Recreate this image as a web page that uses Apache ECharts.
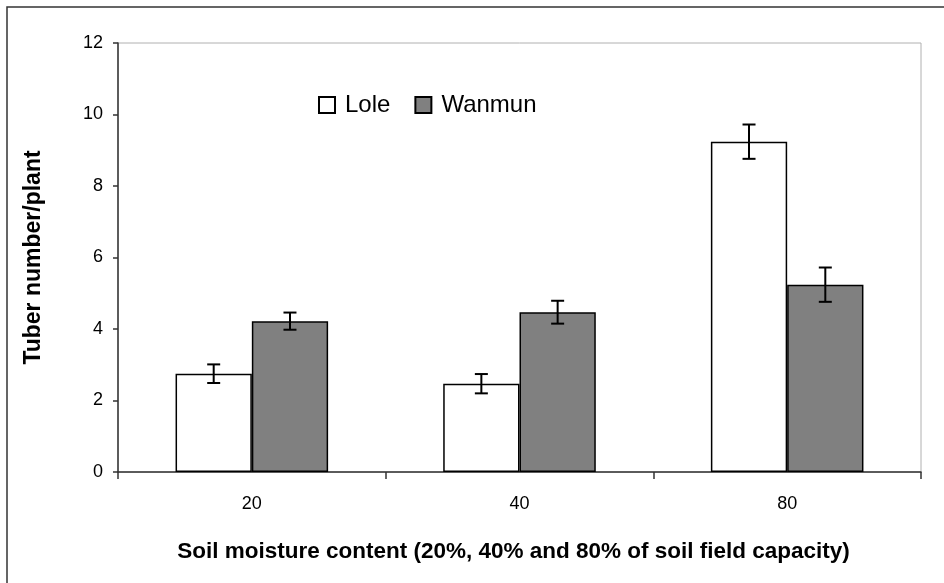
<!DOCTYPE html>
<html>
<head>
<meta charset="utf-8">
<script src="https://cdn.jsdelivr.net/npm/echarts@6/dist/echarts.min.js"></script>
<style>
  html, body { margin: 0; padding: 0; background: #fff; }
  #chart { width: 944px; height: 583px; }
</style>
</head>
<body>
<div id="chart"></div>
<script>
// Soil moisture levels (% of field capacity)
const categories = ['20', '40', '80'];
// Mean tuber number per plant
const loleValues = [2.75, 2.47, 9.24];
const wanmunValues = [4.22, 4.47, 5.24];
// Standard error of each mean
const loleErrors = [0.26, 0.27, 0.48];
const wanmunErrors = [0.24, 0.32, 0.48];
const yTicks = [0, 2, 4, 6, 8, 10, 12];

const CATEGORY_GAP = 0.43;

function errorData(values, errors) {
  return values.map((v, i) => [i, v - errors[i], v + errors[i]]);
}

// Whiskers drawn on top of each bar; side = -1 for the left bar, +1 for the right bar
function errorSeries(name, values, errors, side) {
  return {
    type: 'custom',
    name: name + ' error',
    data: errorData(values, errors),
    z: 10,
    silent: true,
    encode: { x: 0, y: [1, 2] },
    renderItem: function (params, api) {
      const idx = api.value(0);
      const lo = api.coord([idx, api.value(1)]);
      const hi = api.coord([idx, api.value(2)]);
      const band = api.size([1, 0])[0];
      const barW = band * (1 - CATEGORY_GAP) / 2;
      const x = lo[0] + side * barW / 2;
      const cap = 6.5;
      const style = { stroke: '#000', lineWidth: 2 };
      return {
        type: 'group',
        children: [
          { type: 'line', shape: { x1: x, y1: hi[1], x2: x, y2: lo[1] }, style: style },
          { type: 'line', shape: { x1: x - cap, y1: hi[1], x2: x + cap, y2: hi[1] }, style: style },
          { type: 'line', shape: { x1: x - cap, y1: lo[1], x2: x + cap, y2: lo[1] }, style: style }
        ]
      };
    }
  };
}

const chart = echarts.init(document.getElementById('chart'), null, { renderer: 'canvas' });

chart.setOption({
  animation: false,
  backgroundColor: '#fff',
  textStyle: { fontFamily: 'Liberation Sans, Arial, sans-serif' },
  graphic: [
    {
      type: 'rect',
      shape: { x: 7, y: 7, width: 1200, height: 1200 },
      style: { fill: 'none', stroke: '#333', lineWidth: 1.5 },
      z: -10
    }
  ],
  grid: {
    left: 118, right: 23, top: 43, bottom: 111,
    show: true, borderColor: '#b0b0b0', borderWidth: 1, backgroundColor: 'transparent'
  },
  legend: {
    left: 313, top: 88,
    icon: 'rect', itemWidth: 16, itemHeight: 16, itemGap: 24,
    data: ['Lole', 'Wanmun'],
    textStyle: { fontSize: 24, color: '#000', padding: [0, 0, 0, 5] }
  },
  xAxis: {
    type: 'category',
    data: categories,
    name: 'Soil moisture content (20%, 40% and 80% of soil field capacity)',
    nameLocation: 'middle',
    nameGap: 68,
    nameTextStyle: { fontSize: 22.5, fontWeight: 'bold', color: '#000', padding: [0, 12, 0, 0] },
    axisLine: { lineStyle: { color: '#333', width: 1.5 } },
    axisTick: { show: true, length: 7, lineStyle: { color: '#333', width: 1.5 } },
    axisLabel: { fontSize: 18, color: '#000', margin: 23 },
    splitLine: { show: false }
  },
  yAxis: {
    type: 'value',
    min: 0, max: 12, interval: 2,
    name: 'Tuber number/plant',
    nameLocation: 'middle',
    nameGap: 73,
    nameRotate: 90,
    nameTextStyle: { fontSize: 23, fontWeight: 'bold', color: '#000' },
    axisLine: { show: true, lineStyle: { color: '#333', width: 1.5 } },
    axisTick: { show: true, length: 5, lineStyle: { color: '#333', width: 1.5 } },
    axisLabel: {
      fontSize: 18, color: '#000', margin: 15,
      formatter: function (v) { return yTicks.indexOf(v) >= 0 ? String(v) : ''; }
    },
    splitLine: { show: false }
  },
  series: [
    {
      name: 'Lole', type: 'bar', data: loleValues,
      barGap: '0%', barCategoryGap: (CATEGORY_GAP * 100) + '%',
      itemStyle: { color: '#ffffff', borderColor: '#000', borderWidth: 1.5 }
    },
    {
      name: 'Wanmun', type: 'bar', data: wanmunValues,
      barGap: '0%', barCategoryGap: (CATEGORY_GAP * 100) + '%',
      itemStyle: { color: '#808080', borderColor: '#000', borderWidth: 1.5 }
    },
    errorSeries('Lole', loleValues, loleErrors, -1),
    errorSeries('Wanmun', wanmunValues, wanmunErrors, 1)
  ]
});
</script>
</body>
</html>
